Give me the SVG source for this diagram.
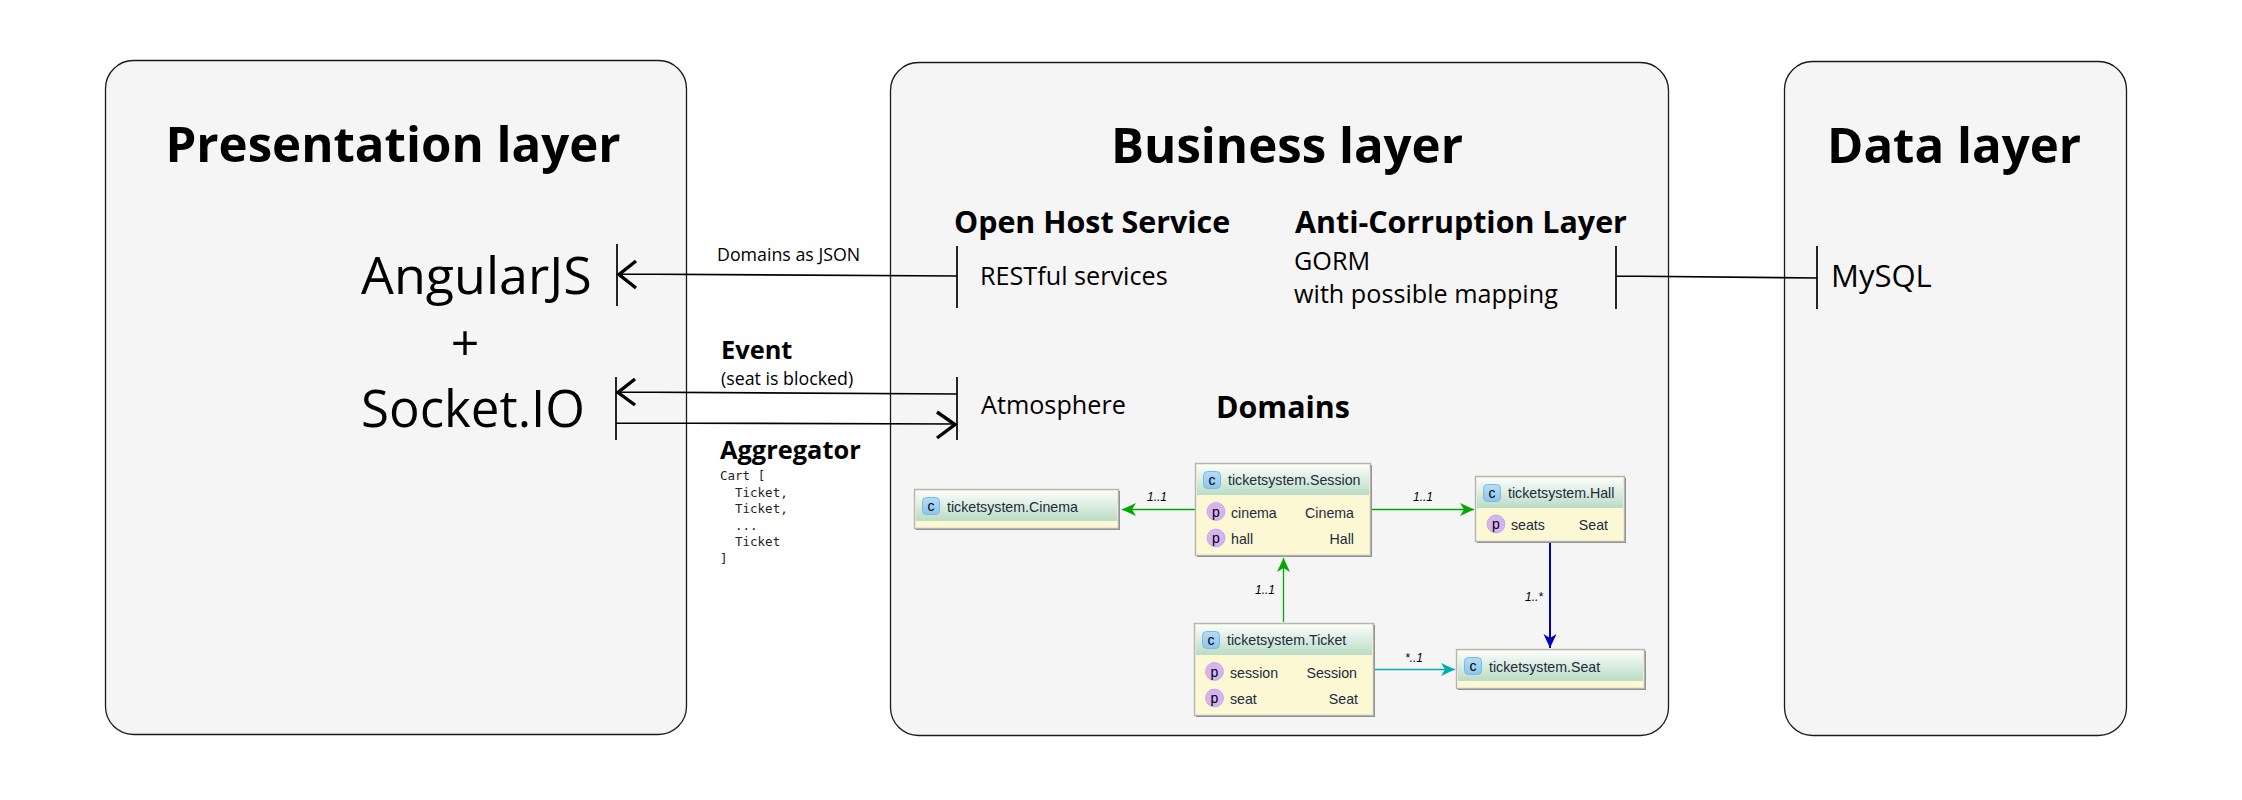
<svg xmlns="http://www.w3.org/2000/svg" width="2242" height="800" viewBox="0 0 2242 800">
<defs>
<linearGradient id="hd" x1="0" y1="0" x2="0" y2="1"><stop offset="0" stop-color="#fbfdfb"/><stop offset="1" stop-color="#b9dcc4"/></linearGradient>
<linearGradient id="ci" x1="0" y1="0" x2="0" y2="1"><stop offset="0" stop-color="#b5dcf7"/><stop offset="1" stop-color="#8cc6ee"/></linearGradient>
<g id="cicon"><rect x="0" y="0" width="17" height="17" rx="4" fill="url(#ci)" stroke="#7fb8e0"/><text x="8.5" y="13" text-anchor="middle" class="ic" fill="#33617f">c</text></g>
<g id="picon"><circle cx="9" cy="9" r="8.9" fill="#d6b4f2" stroke="#c9a4e8"/><text x="9" y="14" text-anchor="middle" class="ic" fill="#5a4a78">p</text></g>
<marker id="gr" markerWidth="14" markerHeight="14" refX="14" refY="7" orient="auto" markerUnits="userSpaceOnUse"><path d="M0 0.500L14 7L0 13.500L4 7Z" fill="#00a800"/></marker>
<marker id="cy" markerWidth="14" markerHeight="14" refX="14" refY="7" orient="auto" markerUnits="userSpaceOnUse"><path d="M0 0.500L14 7L0 13.500L4 7Z" fill="#00aeae"/></marker>
<marker id="bl" markerWidth="14" markerHeight="14" refX="14" refY="7" orient="auto" markerUnits="userSpaceOnUse"><path d="M0 0.500L14 7L0 13.500L4 7Z" fill="#0000c0"/></marker>
</defs>
<style>
text{font-family:"Open Sans","Noto Sans","Liberation Sans",sans-serif;fill:#000}
.panel{fill:#f5f5f5;stroke:#1a1a1a;stroke-width:1.3}
.t{font-size:49.200px;font-weight:700}
.h{font-size:30.400px;font-weight:700}
.m{font-size:25.200px}
.s{font-size:17.800px}
.b{font-size:25.400px;font-weight:700}
.mono{font-family:"DejaVu Sans Mono","Liberation Mono",monospace;font-size:12.500px;fill:#222}
.ln{stroke:#000;stroke-width:1.700;fill:none}
.head{stroke:#000;stroke-width:3.400;fill:none}
.box{fill:#fbf8d3;stroke:#b4b4b4;stroke-width:1.400}
.shadow{fill:#8a8a8a}
.n{font-family:"Liberation Sans",sans-serif;font-size:14.200px;fill:#222a40}
.ic{font-family:"Liberation Sans",sans-serif;font-size:14px;font-weight:400}
.c{font-family:"Liberation Sans",sans-serif;font-size:12px;font-style:italic;fill:#000}
</style>

<g id="presentation-layer">
<rect class="panel" x="105.500" y="60.500" width="581" height="674" rx="28"/>
<text class="t" x="393" y="162" text-anchor="middle">Presentation layer</text>
<text x="361" y="294" style="font-size:52px">AngularJS</text>
<text x="465" y="361" text-anchor="middle" style="font-size:50px">+</text>
<text x="361" y="427" style="font-size:51px">Socket.IO</text>
</g>
<g id="business-layer">
<rect class="panel" x="890.500" y="62.500" width="778" height="673" rx="28"/>
<text class="t" x="1287" y="163" text-anchor="middle">Business layer</text>
<text class="h" x="954" y="233">Open Host Service</text>
<text class="h" x="1295" y="233">Anti-Corruption Layer</text>
<text class="m" x="980" y="285">RESTful services</text>
<text class="m" x="1294" y="270">GORM</text>
<text class="m" x="1294" y="303">with possible mapping</text>
<text class="m" x="981" y="414">Atmosphere</text>
<text class="h" x="1216" y="418">Domains</text>
</g>
<g id="data-layer">
<rect class="panel" x="1784.500" y="61.500" width="342" height="674" rx="28"/>
<text class="t" x="1954" y="163" text-anchor="middle">Data layer</text>
<text x="1831" y="287" style="font-size:31px">MySQL</text>
</g>

<g id="connectors">
<path class="ln" d="M617 244V306M957 246V308M617 274L957 276"/>
<path class="head" d="M636 261L619 274.500L636 288"/>
<path class="ln" d="M616 377V440M957 377V440M616 392L957 394M616 423L957 424"/>
<path class="head" d="M635 379L618 392.500L635 405M937 412L955 424.500L937 438"/>
<path class="ln" d="M1616 246V309M1817 246V309M1616 276L1817 278"/>
<path stroke="#00a800" stroke-width="1.300" fill="none" marker-end="url(#gr)" d="M1195 509.500H1122"/>
<path stroke="#00a800" stroke-width="1.300" fill="none" marker-end="url(#gr)" d="M1372 509.500H1474"/>
<path stroke="#00a800" stroke-width="1.300" fill="none" marker-end="url(#gr)" d="M1283.500 622V558"/>
<path stroke="#0000c0" stroke-width="2" fill="none" marker-end="url(#bl)" d="M1550 543V648"/>
<path stroke="#00aeae" stroke-width="1.300" fill="none" marker-end="url(#cy)" d="M1375 669.500H1455"/>
<text class="c" x="1147" y="501">1..1</text>
<text class="c" x="1413" y="501">1..1</text>
<text class="c" x="1255" y="594">1..1</text>
<text class="c" x="1525" y="601">1..*</text>
<text class="c" x="1405" y="662">*..1</text>
</g>

<g id="domains-as-json"><text class="s" x="717" y="261">Domains as JSON</text></g>
<g id="event-label"><text class="b" x="721" y="359">Event</text><text class="s" x="721" y="385">(seat is blocked)</text></g>
<g id="aggregator-label"><text class="b" x="720" y="459">Aggregator</text>
<text class="mono" x="720" y="480">Cart [</text>
<text class="mono" x="735" y="497">Ticket,</text>
<text class="mono" x="735" y="513">Ticket,</text>
<text class="mono" x="735" y="530">...</text>
<text class="mono" x="735" y="546">Ticket</text>
<text class="mono" x="720" y="563">]</text></g>

<g id="cinema">
<rect class="shadow" x="916" y="491" width="204" height="39"/>
<rect class="box" x="914.500" y="489.500" width="204" height="39"/>
<rect x="916" y="491" width="201" height="30" fill="url(#hd)"/>
<use href="#cicon" x="922.500" y="497.500"/>
<text class="n" x="947" y="512">ticketsystem.Cinema</text>
</g>
<g id="session">
<rect class="shadow" x="1197" y="465" width="175" height="92"/>
<rect class="box" x="1195.500" y="463.500" width="175" height="92"/>
<rect x="1197" y="465" width="172" height="30" fill="url(#hd)"/>
<use href="#cicon" x="1203.500" y="471.500"/>
<text class="n" x="1228" y="485">ticketsystem.Session</text>
<use href="#picon" x="1207" y="502.500"/><text class="n" x="1231" y="518">cinema</text><text class="n" x="1354" y="518" text-anchor="end">Cinema</text>
<use href="#picon" x="1207" y="529"/><text class="n" x="1231" y="544">hall</text><text class="n" x="1354" y="544" text-anchor="end">Hall</text>
</g>
<g id="hall">
<rect class="shadow" x="1477" y="478" width="149" height="65"/>
<rect class="box" x="1475.500" y="476.500" width="149" height="65"/>
<rect x="1477" y="478" width="146" height="30" fill="url(#hd)"/>
<use href="#cicon" x="1483.500" y="484.500"/>
<text class="n" x="1508" y="498">ticketsystem.Hall</text>
<use href="#picon" x="1487" y="515"/><text class="n" x="1511" y="530">seats</text><text class="n" x="1608" y="530" text-anchor="end">Seat</text>
</g>
<g id="ticket">
<rect class="shadow" x="1196" y="625" width="179" height="92"/>
<rect class="box" x="1194.500" y="623.500" width="179" height="92"/>
<rect x="1196" y="625" width="176" height="30" fill="url(#hd)"/>
<use href="#cicon" x="1202.500" y="631.500"/>
<text class="n" x="1227" y="645">ticketsystem.Ticket</text>
<use href="#picon" x="1205.500" y="662.500"/><text class="n" x="1230" y="678">session</text><text class="n" x="1357" y="678" text-anchor="end">Session</text>
<use href="#picon" x="1205.500" y="689"/><text class="n" x="1230" y="704">seat</text><text class="n" x="1358" y="704" text-anchor="end">Seat</text>
</g>
<g id="seat">
<rect class="shadow" x="1458" y="651" width="188" height="39"/>
<rect class="box" x="1456.500" y="649.500" width="188" height="39"/>
<rect x="1458" y="651" width="185" height="30" fill="url(#hd)"/>
<use href="#cicon" x="1464.500" y="657.500"/>
<text class="n" x="1489" y="672">ticketsystem.Seat</text>
</g>
</svg>
